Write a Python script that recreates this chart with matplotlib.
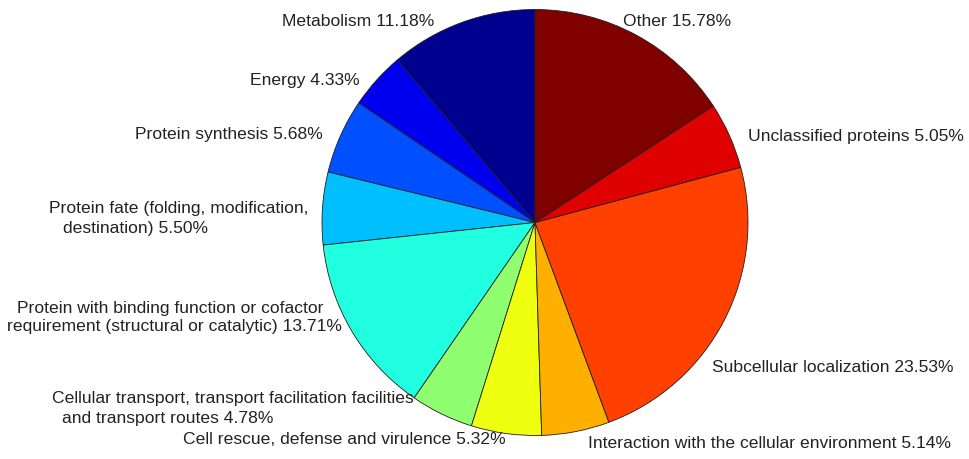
import matplotlib
matplotlib.use('Agg')
from matplotlib import pyplot as plt
import numpy as np

# categories in drawing order (counter-clockwise from the top)
categories = ['Metabolism', 'Energy', 'Protein synthesis',
              'Protein fate (folding, modification, destination)',
              'Protein with binding function or cofactor requirement (structural or catalytic)',
              'Cellular transport, transport facilitation facilities and transport routes',
              'Cell rescue, defense and virulence',
              'Interaction with the cellular environment',
              'Subcellular localization', 'Unclassified proteins', 'Other']
percent = [11.18, 4.33, 5.68, 5.50, 13.71, 4.78, 5.32, 5.14, 23.53, 5.05, 15.78]

# label text, split into lines as in the figure
label_lines = [
    ['Metabolism 11.18%'],
    ['Energy 4.33%'],
    ['Protein synthesis 5.68%'],
    ['Protein fate (folding, modification,', 'destination) 5.50%'],
    ['Protein with binding function or cofactor', 'requirement (structural or catalytic) 13.71%'],
    ['Cellular transport, transport facilitation facilities', 'and transport routes 4.78%'],
    ['Cell rescue, defense and virulence 5.32%'],
    ['Interaction with the cellular environment 5.14%'],
    ['Subcellular localization 23.53%'],
    ['Unclassified proteins 5.05%'],
    ['Other 15.78%'],
]

# layout: left x / centre y (pixels from top) of every label line
W, H = 969, 459
label_pos = [
    [(282, 22)],
    [(250, 80)],
    [(135, 135)],
    [(49, 208), (63, 228)],
    [(17, 308), (7, 327)],
    [(52, 398), (62, 418)],
    [(183, 440)],
    [(588, 443)],
    [(712, 368)],
    [(748, 137)],
    [(623, 22)],
]


def matlab_jet(m=64):
    # same table as MATLAB's jet(m)
    n = int(np.ceil(m / 4))
    u = np.concatenate([np.arange(1, n + 1) / n, np.ones(n - 1), np.arange(n, 0, -1) / n])
    g = int(np.ceil(n / 2)) - (1 if m % 4 == 1 else 0) + np.arange(1, len(u) + 1)
    r = g + n
    b = g - n
    J = np.zeros((m, 3))
    rk = r[r <= m]
    gk = g[g <= m]
    bk = b[b >= 1]
    J[rk - 1, 0] = u[:len(rk)]
    J[gk - 1, 1] = u[:len(gk)]
    J[bk - 1, 2] = u[len(u) - len(bk):]
    return J


# pie patches use scaled colour indices 1..N onto jet(64)
cmap = matlab_jet(64)
N = len(percent)
idx = [min(int((i / (N - 1)) * 64), 63) for i in range(N)]
colors = [cmap[k] for k in idx]

fig = plt.figure(figsize=(W / 100, H / 100), dpi=100)
ax = fig.add_axes([0, 0, 1, 1])
ax.pie(percent, colors=colors, startangle=90, counterclock=True,
       center=(535, H - 222.5), radius=213,
       wedgeprops=dict(edgecolor='#202020', linewidth=0.6))
ax.set_xlim(0, W)
ax.set_ylim(0, H)
ax.set_aspect('equal')
ax.axis('off')

for lines, pos in zip(label_lines, label_pos):
    for txt, (x, y) in zip(lines, pos):
        ax.text(x, H - y, txt, ha='left', va='center', fontsize=12.6,
                family='Liberation Sans', color='#222222')

fig.savefig('out.png', dpi=100, facecolor='white')
